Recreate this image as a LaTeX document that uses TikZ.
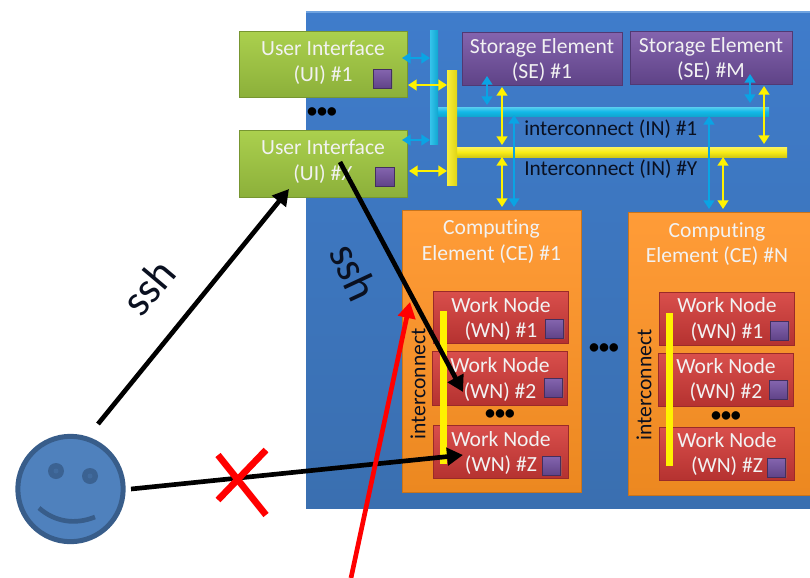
\documentclass[tikz,border=0pt]{standalone}
\usepackage{fontspec}
\setmainfont[Ligatures=NoCommon]{Carlito}
\usetikzlibrary{arrows.meta,shadows,calc}
\definecolor{panelT}{HTML}{6FA3E0}
\definecolor{panelB}{HTML}{3A6FB0}
\definecolor{panelC}{HTML}{3F7CCB}
\definecolor{greenT}{HTML}{ABD04E}
\definecolor{greenB}{HTML}{8CB03A}
\definecolor{purpT}{HTML}{8464AE}
\definecolor{purpB}{HTML}{5F4387}
\definecolor{orT}{HTML}{FF9C38}
\definecolor{orB}{HTML}{EC8820}
\definecolor{redT}{HTML}{D94F4C}
\definecolor{redB}{HTML}{B53230}
\definecolor{txt}{HTML}{F2F2F2}
\definecolor{darktxt}{HTML}{0A1020}
\definecolor{cyanbar}{HTML}{12B9E8}
\definecolor{yellowbar}{HTML}{F8EC18}
\definecolor{arrowblue}{HTML}{0AA4E4}
\definecolor{face}{HTML}{4F81BD}
\definecolor{faceline}{HTML}{385D8A}
\newcommand{\boxfont}{\fontsize{16.2}{19}\selectfont}
\tikzset{
  x=0.75pt,y=-0.75pt,
  panel/.style={top color=panelC,bottom color=panelB},
  uibox/.style={top color=greenT,bottom color=greenB,draw=greenB!85!black,line width=.5pt,drop shadow={shadow xshift=.6pt,shadow yshift=-.8pt,opacity=.35}},
  sebox/.style={top color=purpT,bottom color=purpB,draw=purpB!85!black,line width=.5pt,drop shadow={shadow xshift=.6pt,shadow yshift=-.8pt,opacity=.35}},
  cebox/.style={top color=orT,bottom color=orB,draw=orB!85!black,line width=.5pt,drop shadow={shadow xshift=.6pt,shadow yshift=-.8pt,opacity=.35}},
  wnbox/.style={top color=redT,bottom color=redB,draw=redB!85!black,line width=.5pt,drop shadow={shadow xshift=.6pt,shadow yshift=-.8pt,opacity=.3}},
  sq/.style={inner sep=0pt,outer sep=0pt,minimum size=14pt,top color=purpT,bottom color=purpB,draw=purpB!70!black,line width=.7pt,drop shadow={shadow xshift=.5pt,shadow yshift=-.6pt,opacity=.35}},
  cbar/.style={top color=cyanbar!70!white,bottom color=cyanbar!90!black,middle color=cyanbar},
  ybar/.style={top color=yellowbar!70!white,bottom color=yellowbar!85!black,middle color=yellowbar},
  cvbar/.style={left color=cyanbar!85!white,right color=cyanbar!90!black},
  yvbar/.style={left color=yellowbar!85!white,right color=yellowbar!90!black},
  pybar/.style={fill=yellow},
  cyarrow/.style={draw=arrowblue,line width=1.8pt,{Triangle[width=8pt,length=6.5pt]}-{Triangle[width=8pt,length=6.5pt]}},
  yearrow/.style={draw=yellow,line width=1.8pt,{Triangle[width=8pt,length=6.5pt]}-{Triangle[width=8pt,length=6.5pt]}},
  blackarrow/.style={draw=black,line width=3.5pt,-{Triangle[width=13pt,length=12pt]}},
  redarrow/.style={draw=red,line width=3.5pt,-{Triangle[width=13pt,length=12pt]}},
  cross/.style={draw=red,line width=5pt},
  dotsn/.style={font=\fontsize{15}{15}\selectfont\bfseries,inner sep=0pt,text=black},
  boxtext/.style={text=txt,align=center,font=\boxfont,inner sep=0pt},
  label/.style={text=darktxt,inner sep=0pt,font=\fontsize{16}{19}\selectfont,anchor=west},
  rlabel/.style={text=darktxt,inner sep=0pt,font=\fontsize{16.2}{19}\selectfont,rotate=90},
  sshlabel/.style={text=darktxt,inner sep=0pt,font=\fontsize{33}{33}\selectfont},
}
\newcommand{\rectnode}[7]{% style, name, x0, y0, x1, y1, text
  \path[#1] (#3,#4) rectangle (#5,#6);
  \node[inner sep=0pt,outer sep=0pt,align=center,text=txt,font=\boxfont,
        minimum width=#5pt*0.75-#3pt*0.75,minimum height=#6pt*0.75-#4pt*0.75] (#2) at ({(#3+#5)/2},{(#4+#6)/2}) {#7};
}
\begin{document}
\begin{tikzpicture}
\useasboundingbox (0,0) rectangle (810,578);
\fill[white] (0,0) rectangle (810,578);
% main panel
\rectnode{panel}{main}{306}{11}{812}{508}{}
\fill[panelT] (306,11) rectangle (812,13);
% interconnect bars
\rectnode{cbar}{ch}{436}{107}{769}{116}{}
\rectnode{cvbar}{cv}{430}{30}{438}{144}{}
\rectnode{ybar}{yh}{455}{147}{787}{157}{}
\rectnode{yvbar}{yv}{447}{70}{457}{185}{}
% UI
\rectnode{uibox}{uione}{239}{31}{407}{97}{}
\rectnode{uibox}{uix}{239}{130}{407}{197}{}
\node[boxtext] (uionet) at (323,62.5) {User Interface\\(UI) \#1};
\node[boxtext] (uixt) at (323,161.5) {User Interface\\(UI) \#X};
\node[sq] (squia) at (382.5,79) {};
\node[sq] (squib) at (385,177) {};
% SE
\rectnode{sebox}{seone}{462}{32}{622}{85}{}
\rectnode{sebox}{sem}{630}{31}{792}{84}{}
\node[boxtext] (seonet) at (542,60) {Storage Element\\(SE) \#1};
\node[boxtext] (semt) at (711,59) {Storage Element\\(SE) \#M};
% CE
\rectnode{cebox}{ceone}{402}{210}{581}{492}{}
\rectnode{cebox}{cen}{628}{212}{812}{495}{}
\node[boxtext] (ceonet) at (491.5,241.5) {Computing\\Element (CE) \#1};
\node[boxtext] (cent) at (717,244) {Computing\\Element (CE) \#N};
% WN in CE1
\rectnode{wnbox}{wa}{433}{291}{568}{343}{}
\rectnode{wnbox}{wb}{432}{351}{567}{405}{}
\rectnode{wnbox}{wc}{433}{425}{568}{478}{}
\node[boxtext] (wat) at (501,319) {Work Node\\(WN) \#1};
\node[boxtext] (wbt) at (500,379.5) {Work Node\\(WN) \#2};
\node[boxtext] (wct) at (501,453) {Work Node\\(WN) \#Z};
\node[sq] (sqa) at (554.5,329) {};
\node[sq] (sqb) at (553.5,388) {};
\node[sq] (sqc) at (551.5,466) {};
\rectnode{pybar}{ya}{440}{311}{447}{464}{}
% WN in CEN
\rectnode{wnbox}{na}{659}{292}{794}{345}{}
\rectnode{wnbox}{nb}{658}{353}{793}{406}{}
\rectnode{wnbox}{nc}{659}{427}{794}{480}{}
\node[boxtext] (nat) at (727,319.5) {Work Node\\(WN) \#1};
\node[boxtext] (nbt) at (726,380) {Work Node\\(WN) \#2};
\node[boxtext] (nct) at (727,454) {Work Node\\(WN) \#Z};
\node[sq] (sqd) at (779.5,331) {};
\node[sq] (sqe) at (778.5,390) {};
\node[sq] (sqf) at (776.5,468) {};
\rectnode{pybar}{yb}{666}{313}{673}{466}{}
% labels
\node[label] (lin1) at (524,129) {interconnect (IN) \#1};
\node[label] (liny) at (524,169) {Interconnect (IN) \#Y};
\node[rlabel] (ric1) at (418,384) {interconnect};
\node[rlabel] (ric2) at (644,385) {interconnect};
\node[dotsn] (d1) at (322,113) {•••};
\node[dotsn] (d2) at (500,415) {•••};
\node[dotsn] (d3) at (604,349) {•••};
\node[dotsn] (d4) at (726,417) {•••};
% small arrows
\coordinate (a1) at (402,58);  \coordinate (a2) at (cv.west |- a1);
\draw[cyarrow] (a1) -- (a2);
\coordinate (a3) at (402,140); \coordinate (a4) at (cv.west |- a3);
\draw[cyarrow] (a3) -- (a4);
\coordinate (a5) at (408,85);  \coordinate (a6) at (yv.west |- a5);
\draw[yearrow] (a5) -- (a6);
\coordinate (a7) at (409,171); \coordinate (a8) at (yv.west |- a7);
\draw[yearrow] (a7) -- (a8);
\coordinate (b1) at (487,76);  \coordinate (b2) at (b1 |- ch.north);
\draw[cyarrow] (b1) -- ($(b2)+(0,-2)$);
\coordinate (b3) at (502,87);  \coordinate (b4) at (b3 |- yh.north);
\draw[yearrow] (b3) -- ($(b4)+(0,-2)$);
\coordinate (b5) at (502,157); \coordinate (b6) at (b5 |- ceone.north);
\draw[yearrow] (b5) -- ($(b6)+(0,-3)$);
\coordinate (b7) at (514,115); \coordinate (b8) at (b7 |- ceone.north);
\draw[cyarrow] (b7) -- ($(b8)+(0,-3)$);
\coordinate (c1) at (750,74);  \coordinate (c2) at (c1 |- ch.north);
\draw[cyarrow] (c1) -- ($(c2)+(0,-4)$);
\coordinate (c3) at (764,86);  \coordinate (c4) at (c3 |- yh.north);
\draw[yearrow] (c3) -- ($(c4)+(0,-3)$);
\coordinate (c5) at (709,116); \coordinate (c6) at (c5 |- cen.north);
\draw[cyarrow] (c5) -- ($(c6)+(0,-3)$);
\coordinate (c7) at (723,157); \coordinate (c8) at (c7 |- cen.north);
\draw[yearrow] (c7) -- ($(c8)+(0,-3)$);
% smiley
\node[circle,draw=faceline,fill=face,line width=3.75pt,minimum size=79pt,inner sep=0pt] (user) at (70.5,489) {};
\fill[faceline!85!face] (56,471) circle (8);
\fill[faceline!85!face] (90,476) circle (8);
\fill[faceline!60!face] (56,471) circle (2.5);
\fill[faceline!60!face] (90,476) circle (2.5);
\draw[faceline,line width=3.5pt] (39,508) .. controls (55,522) and (75,525) .. (95,517);
% big arrows
\coordinate (s1) at (98,424);
\coordinate (s2) at (289,189);
\draw[blackarrow] (s1) -- (s2);
\coordinate (s3) at (340,162);
\coordinate (s4) at (463,392);
\draw[blackarrow] (s3) -- (s4);
\coordinate (s5) at (131,489);
\coordinate (s6) at (463,455);
\draw[blackarrow] (s5) -- (s6);
\coordinate (s7) at (351,578);
\coordinate (s8) at (410,302);
\draw[redarrow] (s7) -- (s8);
\draw[cross] (218,455) -- (266,515);
\draw[cross] (266,450) -- (218,500);
\node[sshlabel,rotate=50] (ssha) at (148,287) {ssh};
\node[sshlabel,rotate=-65] (sshb) at (354,272) {ssh};
\end{tikzpicture}
\end{document}
